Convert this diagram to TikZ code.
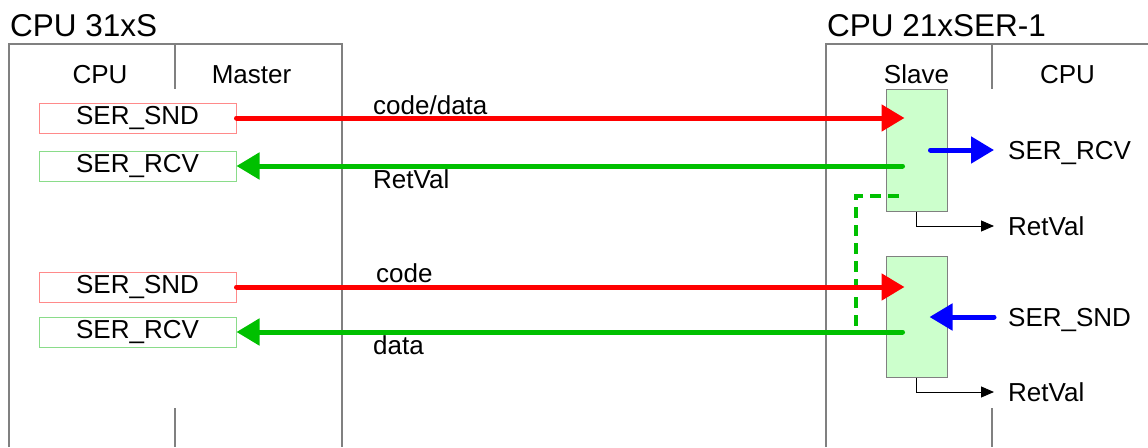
\documentclass[tikz,border=0pt]{standalone}
\usepackage{fontspec}
\setmainfont{Liberation Sans}
\usetikzlibrary{arrows.meta}
\definecolor{framegrey}{HTML}{808080}
\definecolor{sndedge}{HTML}{FF8A8A}
\definecolor{rcvedge}{HTML}{8ADC8A}
\definecolor{slavefill}{HTML}{CCFFCC}
\definecolor{redline}{HTML}{FF0000}
\definecolor{greenline}{HTML}{00C000}
\definecolor{blueline}{HTML}{0000FF}

\begin{document}
\begin{tikzpicture}[
  x=1pt, y=-1pt,
  font=\fontsize{26pt}{30pt}\selectfont,
  every node/.style={inner sep=0pt},
  frame/.style={draw=framegrey, line width=1.2pt},
  title/.style={anchor=base west, font=\fontsize{31.5pt}{36pt}\selectfont},
  head/.style={anchor=base},
  fb/.style={minimum width=197pt, minimum height=30pt, line width=1pt, fill=white},
  sndbox/.style={fb, draw=sndedge},
  rcvbox/.style={fb, draw=rcvedge},
  slave/.style={draw=framegrey, fill=slavefill, line width=1pt, minimum width=61pt},
  lbl/.style={anchor=west, text height=19pt, text depth=0pt},
  tag/.style={anchor=base west},
  thick arrow/.style={line width=5pt, line cap=round, -{Triangle[length=23pt, width=26pt]}},
  redarrow/.style={thick arrow, draw=redline, fill=redline},
  greenarrow/.style={thick arrow, draw=greenline, fill=greenline},
  bluearrow/.style={thick arrow, draw=blueline, fill=blueline},
  retline/.style={draw=black!70, line width=1pt, -{Triangle[length=13pt, width=11pt]}, color=black},
  dashedgreen/.style={draw=greenline, line width=4pt, dash pattern=on 11pt off 7pt}
]
\useasboundingbox (0,0) rectangle (1148,447);

% Left unit: CPU 31xS
\draw[frame] (9,447) -- (9,44) -- (342,44) -- (342,447);
\draw[frame] (175,44) -- (175,89);
\draw[frame] (175,408) -- (175,447);
\node[title] (ltitle) at (10,36.5) {CPU 31xS};
\node[head] (lcpu) at (100,83) {CPU};
\node[head] (lmaster) at (251.5,83) {Master};

\node[sndbox] (snd1) at (137.5,118) {SER\_SND};
\node[rcvbox] (rcv1) at (137.5,166) {SER\_RCV};
\node[sndbox] (snd2) at (137.5,287) {SER\_SND};
\node[rcvbox] (rcv2) at (137.5,332) {SER\_RCV};

% Right unit: CPU 21xSER-1
\draw[frame] (826,447) -- (826,44) -- (1148,44);
\draw[frame] (992,44) -- (992,89);
\draw[frame] (992,408) -- (992,447);
\node[title] (rtitle) at (827,36.5) {CPU 21xSER-1};
\node[head] (rslave) at (916.5,83) {Slave};
\node[head] (rcpu) at (1067.5,83) {CPU};

\node[slave, minimum height=122pt] (slave1) at (916.5,150) {};
\node[slave, minimum height=121pt] (slave2) at (916.5,316.5) {};

\node[lbl] (rcvR) at (1008,150) {SER\_RCV};
\node[lbl] (ret1) at (1008,226) {RetVal};
\node[lbl] (sndR) at (1008,317) {SER\_SND};
\node[lbl] (ret2) at (1008,392) {RetVal};

% dashed link between the two jobs
\coordinate (dstart) at (899,196);
\coordinate (djoin) at (856,332);
\draw[dashedgreen] (dstart) -| (djoin);

% Transfers
\draw[redarrow] (snd1.east) -- ([xshift=19pt]slave1.west |- snd1.east);
\node[tag] (cd1) at (373,114) {code/data};
\draw[greenarrow] ([xshift=17pt]slave1.west |- rcv1.east) -- (rcv1.east);
\node[tag] (rv1) at (373,188) {RetVal};
\draw[redarrow] (snd2.east) -- ([xshift=19pt]slave2.west |- snd2.east);
\node[tag] (cd2) at (376,282) {code};
\draw[greenarrow] ([xshift=17pt]slave2.west |- rcv2.east) -- (rcv2.east);
\node[tag] (dt2) at (373,354) {data};

\draw[bluearrow] ([xshift=-17pt]slave1.east |- rcvR.west) -- ([xshift=-14pt]rcvR.west);
\draw[bluearrow] ([xshift=-14pt]sndR.west) -- ([xshift=-18pt]slave2.east |- sndR.west);

\draw[retline] (slave1.south) |- ([xshift=-14pt]ret1.west);
\draw[retline] (slave2.south) |- ([xshift=-14pt]ret2.west);

\end{tikzpicture}
\end{document}
